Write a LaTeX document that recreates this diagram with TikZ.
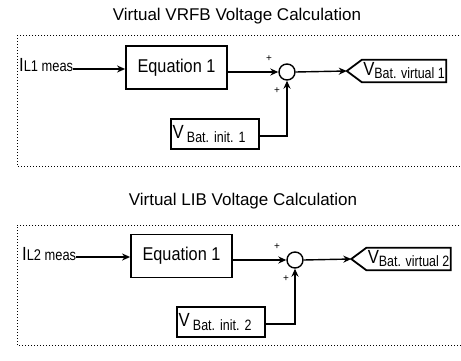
\documentclass[tikz,border=0pt]{standalone}
\usepackage{fontspec}
\setmainfont{Liberation Sans}
\newfontfamily\condfont[FakeStretch=0.88]{Liberation Sans}
\newfontfamily\narrowfont[FakeStretch=0.83]{Liberation Sans}
\usetikzlibrary{arrows.meta}
\newcommand{\bigsym}[1]{{\condfont\fontsize{19}{19}\selectfont #1}}
\newcommand{\subtxt}[1]{{\narrowfont\fontsize{15}{15}\selectfont #1}}
\newcommand{\insub}[1]{{\narrowfont\fontsize{15.5}{15.5}\selectfont #1}}
\begin{document}
\begin{tikzpicture}[x=1pt,y=-1pt,
  blk/.style={draw, line width=1.8pt, inner sep=0pt},
  eqbox/.style={blk, minimum width=101pt, minimum height=43pt,
    font=\condfont\fontsize{18.5}{18.5}\selectfont},
  initbox/.style={blk, minimum width=88pt, minimum height=30pt,
    text width=85pt, align=left},
  tagtext/.style={inner sep=0pt, minimum width=84pt, minimum height=22pt},
  sumnode/.style={draw, circle, line width=1.4pt, minimum size=16pt, inner sep=0pt},
  conn/.style={line width=1.4pt, -{Stealth[length=8pt,width=7pt]}},
  frame/.style={dotted, line width=1pt},
  sign/.style={font=\fontsize{10}{10}\selectfont, inner sep=0pt},
  title/.style={font=\fontsize{17}{17}\selectfont, anchor=base, inner sep=0pt},
  inlabel/.style={anchor=base west, inner sep=0pt}
]
\useasboundingbox (0,0) rectangle (461,361);

% ---------- VRFB block ----------
\node[title] (t1) at (237,21) {Virtual VRFB Voltage Calculation};
\draw[frame] (462,36) -- (17,36) -- (17,166) -- (462,166);

\node[eqbox] (eq1) at (176.5,67.5) {Equation 1};
\node[inlabel] (in1) at (19,72) {\bigsym{I}\insub{L1 meas}};
\coordinate (s1) at ([yshift=3pt]in1.base east);
\draw[conn] (s1) -- (s1 -| eq1.west);

\node[sumnode] (sum1) at (287,72) {};
\node[sign] (p1a) at (269,59) {+};
\node[sign] (p1b) at (277,91) {+};
\draw[conn] (eq1.east |- sum1) -- (sum1.west);

\node[tagtext] (out1) at (404,71) {\bigsym{V}\raisebox{-3pt}{\subtxt{Bat. virtual 1}}};
\coordinate (tip1) at ([xshift=-15pt]out1.west);
\draw[blk, line join=miter] (out1.north west) -- (out1.north east) -- (out1.south east)
  -- (out1.south west) -- (tip1) -- cycle;
\draw[conn] (sum1.east) -- (tip1);

\node[initbox] (init1) at (215,134) {\bigsym{V} \raisebox{-4pt}{\subtxt{Bat. init. 1}}};
\draw[conn] ([yshift=-2pt]init1.east) -| (sum1.south);

% ---------- LIB block ----------
\node[title] (t2) at (243,205) {Virtual LIB Voltage Calculation};
\draw[frame] (462,225) -- (17,225) -- (17,345) -- (462,345);

\node[eqbox] (eq2) at (181.5,256) {Equation 1};
\node[inlabel] (in2) at (22,260) {\bigsym{I}\insub{L2 meas}};
\coordinate (s2) at ([yshift=3pt]in2.base east);
\draw[conn] (s2) -- (s2 -| eq2.west);

\node[sumnode] (sum2) at (295,260) {};
\node[sign] (p2a) at (277,247) {+};
\node[sign] (p2b) at (286,279) {+};
\draw[conn] (eq2.east |- sum2) -- (sum2.west);

\node[tagtext] (out2) at (408.5,259) {\bigsym{V}\raisebox{-3pt}{\subtxt{Bat. virtual 2}}};
\coordinate (tip2) at ([xshift=-15pt]out2.west);
\draw[blk, line join=miter] (out2.north west) -- (out2.north east) -- (out2.south east)
  -- (out2.south west) -- (tip2) -- cycle;
\draw[conn] (sum2.east) -- (tip2);

\node[initbox] (init2) at (221,322) {\bigsym{V} \raisebox{-4pt}{\subtxt{Bat. init. 2}}};
\draw[conn] ([yshift=-2pt]init2.east) -| (sum2.south);
\end{tikzpicture}
\end{document}
